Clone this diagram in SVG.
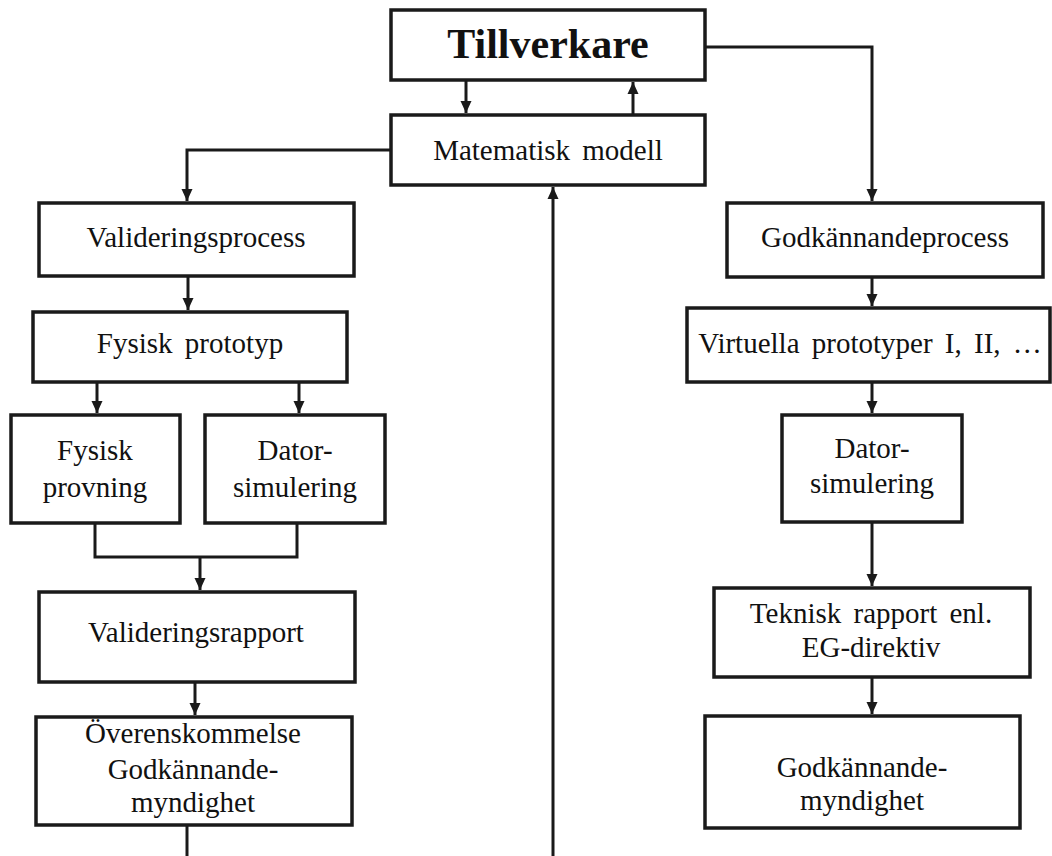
<svg xmlns="http://www.w3.org/2000/svg" width="1052" height="856" viewBox="0 0 1052 856">
<style>
.box{fill:#fff;stroke:#1a1a1a;stroke-width:3.5}
.t{font-family:"Liberation Serif","Times New Roman",serif;font-size:29px;fill:#111;text-anchor:middle;word-spacing:5px}
.b{font-family:"Liberation Serif","Times New Roman",serif;font-size:42px;font-weight:bold;fill:#111;text-anchor:middle}
.c{fill:none;stroke:#1a1a1a;stroke-width:3}
</style>
<defs>
<marker id="ah" markerUnits="userSpaceOnUse" markerWidth="12" markerHeight="12" viewBox="0 0 12 12" refX="12" refY="6" orient="auto">
<path d="M0,0.5 L12,6 L0,11.5 Z" fill="#1a1a1a"/>
</marker>
</defs>
<rect width="1052" height="856" fill="#fff"/>
<g id="connectors">
<path class="c" d="M705,47 H872 V201" marker-end="url(#ah)"/>
<path class="c" d="M872,277 V306" marker-end="url(#ah)"/>
<path class="c" d="M872,382 V413" marker-end="url(#ah)"/>
<path class="c" d="M872,522 V586" marker-end="url(#ah)"/>
<path class="c" d="M872,677 V714" marker-end="url(#ah)"/>
<path class="c" d="M466,80 V113" marker-end="url(#ah)"/>
<path class="c" d="M633,115 V82" marker-end="url(#ah)"/>
<path class="c" d="M390,150 H187 V201" marker-end="url(#ah)"/>
<path class="c" d="M188,276 V310" marker-end="url(#ah)"/>
<path class="c" d="M97,382 V413" marker-end="url(#ah)"/>
<path class="c" d="M299,382 V413" marker-end="url(#ah)"/>
<path class="c" d="M95,523 V557 H297 V523"/>
<path class="c" d="M200,557 V590" marker-end="url(#ah)"/>
<path class="c" d="M195,682 V715" marker-end="url(#ah)"/>
<path class="c" d="M187,825 V856"/>
<path class="c" d="M553,856 V187" marker-end="url(#ah)"/>
</g>
<g id="tillverkare"><rect class="box" x="391" y="10" width="314" height="70"/><text class="b" x="548" y="58">Tillverkare</text></g>
<g id="matematisk"><rect class="box" x="391" y="115" width="314" height="70"/><text class="t" x="548" y="160">Matematisk modell</text></g>
<g id="valideringsprocess"><rect class="box" x="39" y="203" width="315" height="73"/><text class="t" x="196" y="247">Valideringsprocess</text></g>
<g id="fysisk-prototyp"><rect class="box" x="33" y="312" width="314" height="70"/><text class="t" x="190" y="353">Fysisk prototyp</text></g>
<g id="fysisk-provning"><rect class="box" x="11" y="415" width="169" height="108"/><text class="t" x="95" y="460">Fysisk</text><text class="t" x="95" y="497">provning</text></g>
<g id="datorsimulering-v"><rect class="box" x="205" y="415" width="180" height="108"/><text class="t" x="295" y="460">Dator-</text><text class="t" x="295" y="497">simulering</text></g>
<g id="valideringsrapport"><rect class="box" x="39" y="592" width="316" height="90"/><text class="t" x="196" y="642">Valideringsrapport</text></g>
<g id="overenskommelse"><rect class="box" x="36" y="717" width="316" height="108"/><text class="t" x="193" y="743">Överenskommelse</text><text class="t" x="193" y="779">Godkännande-</text><text class="t" x="193" y="812">myndighet</text></g>
<g id="godkannandeprocess"><rect class="box" x="727" y="203" width="316" height="74"/><text class="t" x="885" y="247">Godkännandeprocess</text></g>
<g id="virtuella"><rect class="box" x="687" y="308" width="363" height="74"/><text class="t" x="870" y="353">Virtuella prototyper I, II, …</text></g>
<g id="datorsimulering-h"><rect class="box" x="782" y="415" width="180" height="107"/><text class="t" x="872" y="458">Dator-</text><text class="t" x="872" y="493">simulering</text></g>
<g id="teknisk"><rect class="box" x="714" y="588" width="316" height="89"/><text class="t" x="871" y="623">Teknisk rapport enl.</text><text class="t" x="871" y="657">EG-direktiv</text></g>
<g id="myndighet"><rect class="box" x="705" y="716" width="315" height="112"/><text class="t" x="862" y="777">Godkännande-</text><text class="t" x="862" y="810">myndighet</text></g>
</svg>
